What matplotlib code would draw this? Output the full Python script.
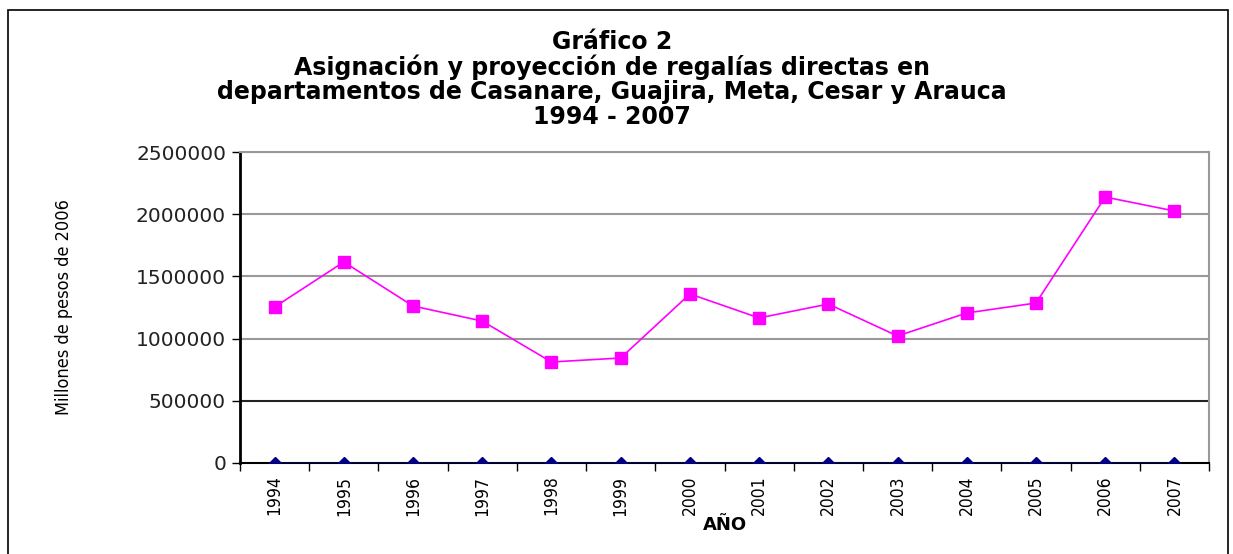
import matplotlib.pyplot as plt
from matplotlib.patches import Rectangle
import numpy as np

years = ["1994", "1995", "1996", "1997", "1998", "1999", "2000",
         "2001", "2002", "2003", "2004", "2005", "2006", "2007"]
regalias = [1254000, 1616000, 1262000, 1141000, 812000, 844000, 1359000,
            1166000, 1278000, 1021000, 1206000, 1286000, 2138000, 2026000]
base = [0, 0, 0, 0, 0, 0, 0, 0, 0, 0, 0, 0, 0, 0]
yticks = [0, 500000, 1000000, 1500000, 2000000, 2500000]

narrow = ["DejaVu Sans"]

fig = plt.figure(figsize=(12.33, 5.54), dpi=100)
ax = fig.add_axes([240/1233, 91/554, 969/1233, 311/554])

x = np.arange(len(years))
ax.plot(x, regalias, color="#ff00ff", lw=1.2, marker="s", ms=9, zorder=3)
ax.plot(x, base, color="#000080", lw=1.8, marker="D", ms=6, zorder=3)

ax.set_xlim(-0.5, len(years) - 0.5)
ax.set_ylim(0, 2500000)
ax.set_yticks(yticks)
ax.set_yticklabels([str(v) for v in yticks], family="DejaVu Sans", fontsize=14.5, color="#222222")
for v in yticks[1:]:
    c = "#222222" if v == 500000 else "#999999"
    ax.axhline(v, color=c, lw=1.5, zorder=1)

ax.set_xticks(x)
ax.set_xticklabels(years, rotation=90, family=narrow, fontstretch="condensed", fontsize=12.5)
ax.set_xticks(np.arange(len(years) + 1) - 0.5, minor=True)
ax.tick_params(axis="x", which="major", length=0, pad=9)
ax.tick_params(axis="x", which="minor", length=6, width=1, direction="out")
ax.tick_params(axis="y", length=6, width=1, direction="out", pad=4)

for s in ["top", "right"]:
    ax.spines[s].set_color("#999999")
    ax.spines[s].set_linewidth(1.5)
ax.spines["left"].set_linewidth(2)
ax.spines["bottom"].set_linewidth(1.5)

ax.set_ylabel("Millones de pesos de 2006", family=narrow, fontstretch="condensed",
              fontsize=13, labelpad=45)
ax.set_xlabel("AÑO", family="DejaVu Sans", fontweight="bold", fontsize=13, labelpad=0)

titles = ["Gráfico 2",
          "Asignación y proyección de regalías directas en",
          "departamentos de Casanare, Guajira, Meta, Cesar y Arauca",
          "1994 - 2007"]
ys = [42, 67, 92, 117]
for t, yy in zip(titles, ys):
    fig.text(612/1233, 1 - yy/554, t, ha="center", va="center",
             family="DejaVu Sans", fontweight="bold", fontsize=17)

fig.patches.append(Rectangle((8/1233, -0.1), 1220/1233, 1.1 - 10/554,
                             transform=fig.transFigure, fill=False,
                             edgecolor="black", lw=1.2))

fig.savefig("out.png", dpi=100)
